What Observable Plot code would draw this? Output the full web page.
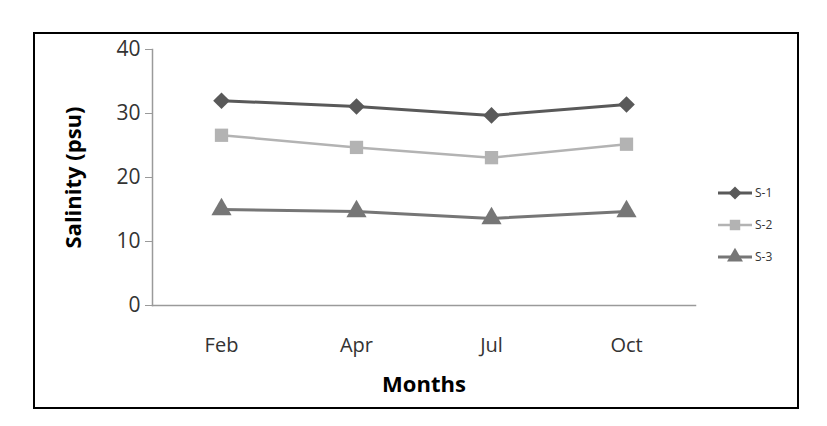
<!DOCTYPE html>
<html>
<head>
<meta charset="utf-8">
<script src="https://cdn.jsdelivr.net/npm/d3@7"></script>
<script src="https://cdn.jsdelivr.net/npm/@observablehq/plot@0.6"></script>
<style>
  html, body { margin: 0; padding: 0; background: #fff; }
  #wrap { position: relative; width: 827px; height: 426px; font-family: "Open Sans", "Liberation Sans", sans-serif; }
  #border { position: absolute; left: 33px; top: 32px; width: 762px; height: 373px; border: 2px solid #000; pointer-events: none; }
  #legend { position: absolute; left: 716px; top: 180px; }
</style>
</head>
<body>
<div id="wrap">
  <div id="chart"></div>
  <div id="border"></div>
  <svg id="legend" width="80" height="95"></svg>
</div>
<script>
const months = ["Feb", "Apr", "Jul", "Oct"];
const seriesNames = ["S-1", "S-2", "S-3"];
const s1 = [32.0, 31.1, 29.7, 31.4];
const s2 = [26.6, 24.7, 23.1, 25.2];
const s3 = [15.0, 14.7, 13.6, 14.7];
const yTicks = [0, 10, 20, 30, 40];
const colors = ["#595959", "#b3b3b3", "#767676"];
const symbols = ["diamond2", "square", "triangle"];
const widths = [3, 2.5, 3];

const seriesValues = [s1, s2, s3];
const data = [];
seriesNames.forEach((s, i) => months.forEach((m, j) => data.push({series: s, month: m, value: seriesValues[i][j]})));

const plot = Plot.plot({
  width: 827,
  height: 426,
  marginLeft: 152,
  marginRight: 132,
  marginTop: 49,
  marginBottom: 121,
  style: {fontFamily: "'Open Sans', 'Liberation Sans', sans-serif", background: "transparent"},
  x: {type: "point", domain: months, padding: 0.5, label: null},
  y: {domain: [0, 40], label: null},
  color: {domain: seriesNames, range: colors},
  symbol: {domain: seriesNames, range: symbols},
  marks: [
    Plot.frame({anchor: "left", stroke: "#9a9a9a", strokeWidth: 1.5}),
    Plot.frame({anchor: "bottom", stroke: "#9a9a9a", strokeWidth: 1.5}),
    Plot.axisY({ticks: yTicks, tickSize: 7, tickPadding: 5, fontSize: 21, color: "#333", stroke: "#9a9a9a", label: null}),
    Plot.axisX({tickSize: 0, tickPadding: 32, fontSize: 20, color: "#333", label: null}),
    ...seriesNames.map((s, i) => Plot.line(data.filter(d => d.series === s), {x: "month", y: "value", stroke: colors[i], strokeWidth: widths[i]})),
    Plot.dot(data, {x: "month", y: "value", fill: "series", symbol: "series", r: 7.5, stroke: null}),
    Plot.text(["Salinity (psu)"], {frameAnchor: "left", textAnchor: "middle", dx: -79, rotate: -90, fontSize: 22, fontWeight: "bold", fill: "#000", letterSpacing: "0.5px"}),
    Plot.text(["Months"], {frameAnchor: "bottom", textAnchor: "middle", dy: 86, fontSize: 22, fontWeight: "bold", fill: "#000"})
  ]
});
document.getElementById("chart").appendChild(plot);

// legend
const leg = d3.select("#legend");
seriesNames.forEach((s, i) => {
  const y = 13 + i * 32;
  leg.append("line").attr("x1", 2).attr("x2", 36).attr("y1", y).attr("y2", y)
    .attr("stroke", colors[i]).attr("stroke-width", widths[i]);
  const sym = d3.symbol().type([d3.symbolDiamond2, d3.symbolSquare, d3.symbolTriangle][i]).size(i === 1 ? 110 : 110);
  leg.append("path").attr("d", sym()).attr("transform", `translate(19,${y})`).attr("fill", colors[i]);
  leg.append("text").attr("x", 39).attr("y", y).attr("dy", "0.35em")
    .attr("font-size", 12).attr("fill", "#333").attr("font-family", "'Open Sans', sans-serif").text(s);
});
</script>
</body>
</html>
